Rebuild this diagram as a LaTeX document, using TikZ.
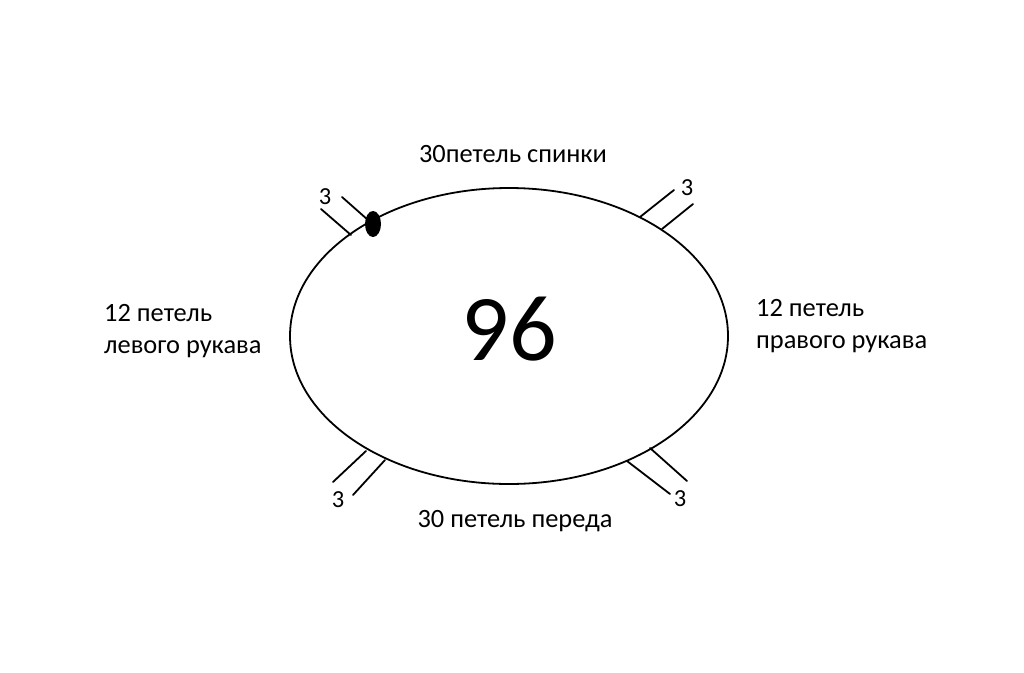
\documentclass[tikz,border=0pt]{standalone}
\usepackage{fontspec}
\setmainfont{Carlito}
\tikzset{
  lbl/.style={inner sep=0pt, font=\fontsize{26.4}{32}\selectfont},
  num/.style={inner sep=0pt, font=\fontsize{24.5}{26}\selectfont},
  tick/.style={line width=1.8pt, line cap=round},
}
\begin{document}
\begin{tikzpicture}[x=1pt,y=-1pt]
\useasboundingbox (0,0) rectangle (1024,672);
\fill[white] (0,0) rectangle (1024,672);
\draw[line width=1.8pt] (509,336) ellipse [x radius=219, y radius=148];
% ticks
\draw[tick] (321,209) -- (351,235);
\draw[tick] (342,197) -- (368,220);
\fill (373,224) ellipse [x radius=8, y radius=13];
\draw[tick] (640,217) -- (674,190);
\draw[tick] (662,229) -- (693,204);
\draw[tick] (366,451) -- (333,482);
\draw[tick] (385,460) -- (353,495);
\draw[tick] (627,461) -- (670,494);
\draw[tick] (650,448) -- (687,481);
% labels
\node[num] (t1) at (325,197) {3};
\node[num] (t2) at (687,188) {3};
\node[num] (t3) at (338,500) {3};
\node[num] (t4) at (680,499) {3};
\node[inner sep=0pt, font=\fontsize{94}{94}\selectfont, anchor=base] (c) at (509,360) {96};
\node[lbl, anchor=base] (top) at (513,162) {30петель спинки};
\node[lbl, anchor=base] (bot) at (515,527) {30 петель переда};
\node[lbl, anchor=base west, align=left] (l1) at (104,321) {12 петель};
\node[lbl, anchor=base west, align=left] (l2) at (104,353) {левого рукава};
\node[lbl, anchor=base west, align=left] (r1) at (756,316) {12 петель};
\node[lbl, anchor=base west, align=left] (r2) at (756,348) {правого рукава};
\end{tikzpicture}
\end{document}
